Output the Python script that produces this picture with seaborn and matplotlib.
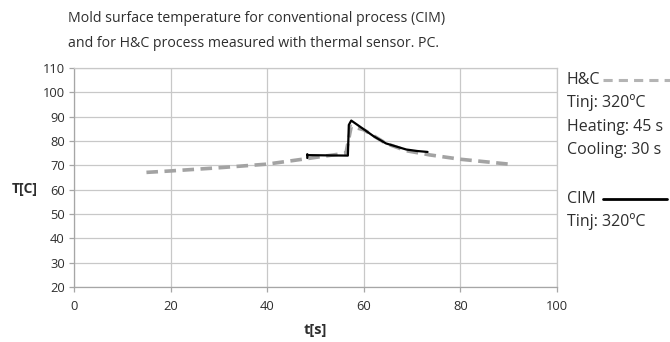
import matplotlib
matplotlib.use("Agg")
import matplotlib.pyplot as plt
import seaborn as sns
import pandas as pd
from matplotlib.lines import Line2D

sns.set_theme(style="whitegrid")
plt.rcParams['font.family'] = ['Open Sans', 'DejaVu Sans']

# H&C process (dashed grey)
hc_t = [15, 20, 30, 40, 48, 56.3, 57.4, 60, 64.6, 68.8, 73.6, 80, 90]
hc_T = [67.1, 67.7, 69.0, 70.5, 72.7, 75.0, 86.0, 84.6, 79.0, 76.0, 74.3, 72.5, 70.5]

# CIM process (solid black)
cim_t = [48.3, 48.3, 48.4, 52, 56.7, 56.9, 57.4, 60, 62, 64.6, 68.8, 71, 73.2]
cim_T = [73.0, 74.6, 74.2, 74.1, 74.0, 86.6, 88.4, 84.8, 82.0, 79.0, 76.5, 75.9, 75.5]

x_ticks = [0, 20, 40, 60, 80, 100]
y_ticks = [20, 30, 40, 50, 60, 70, 80, 90, 100, 110]

title_lines = ["Mold surface temperature for conventional process (CIM)",
               "and for H&C process measured with thermal sensor. PC."]

fig = plt.figure(figsize=(6.7, 3.42), dpi=100)
ax = fig.add_axes([74/670, 1-287/342, (557-74)/670, (287-68)/342])

df_hc = pd.DataFrame({"t": hc_t, "T": hc_T})
df_cim = pd.DataFrame({"t": cim_t, "T": cim_T})
sns.lineplot(data=df_hc, x="t", y="T", ax=ax, color="#a3a3a3", lw=2.6,
             linestyle=(0, (3.2, 1.8)), sort=False, estimator=None)
sns.lineplot(data=df_cim, x="t", y="T", ax=ax, color="black", lw=1.6,
             sort=False, estimator=None)

txt = "#2e2e2e"
ax.set_xlim(0, 100)
ax.set_ylim(20, 110)
ax.set_xticks(x_ticks)
ax.set_yticks(y_ticks)
ax.grid(True, color="#c8c8c8", lw=0.9)
for s in ax.spines.values():
    s.set_color("#c8c8c8")
    s.set_linewidth(0.9)
ax.spines['left'].set_color("#a6a6a6")
ax.spines['bottom'].set_color("#a6a6a6")
ax.tick_params(axis='both', labelsize=9.3, labelcolor=txt, color="#a6a6a6",
               length=3.6, width=0.9, pad=3, bottom=True, left=True)
ax.tick_params(axis='x', pad=6)
ax.set_xlabel("t[s]", fontsize=10.5, fontweight="bold", color=txt, labelpad=7)
ax.set_ylabel("")
fig.text(12/670, 1-189/342, "T[C]", fontsize=10, fontweight="bold", color=txt,
         ha="left", va="center")

fig.text(68/670, 1-18/342, title_lines[0], fontsize=10.2, color=txt, ha="left", va="center")
fig.text(68/670, 1-43.5/342, title_lines[1], fontsize=10.2, color=txt, ha="left", va="center")

lx = 567/670
fs = 11.5
fig.text(lx, 1-80/342, "H&C", fontsize=fs, color=txt, va="center")
fig.add_artist(Line2D([603/670, 670/670], [1-80/342]*2, color="#b4b4b4", lw=2.2,
                      linestyle=(0, (3, 2)), transform=fig.transFigure))
fig.text(lx, 1-103/342, "Tinj: 320ºC", fontsize=fs, color=txt, va="center")
fig.text(lx, 1-127/342, "Heating: 45 s", fontsize=fs, color=txt, va="center")
fig.text(lx, 1-150/342, "Cooling: 30 s", fontsize=fs, color=txt, va="center")
fig.text(lx, 1-199/342, "CIM", fontsize=fs, color=txt, va="center")
fig.add_artist(Line2D([603/670, 667/670], [1-199/342]*2, color="black", lw=2.0,
                      transform=fig.transFigure))
fig.text(lx, 1-222/342, "Tinj: 320ºC", fontsize=fs, color=txt, va="center")

fig.savefig("out.png", dpi=100)
